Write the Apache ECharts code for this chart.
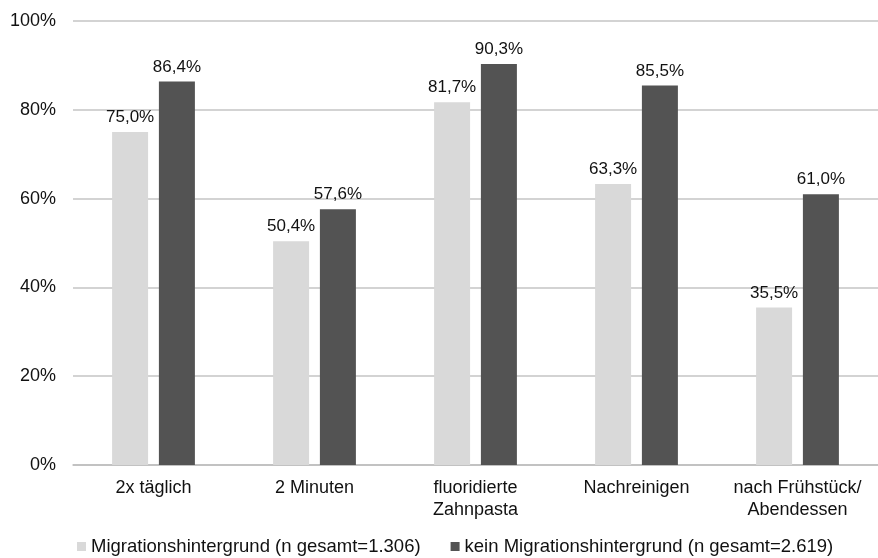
<!DOCTYPE html>
<html>
<head>
<meta charset="utf-8">
<script src="https://cdn.jsdelivr.net/npm/echarts@6/dist/echarts.min.js"></script>
<style>
  html, body { margin: 0; padding: 0; background: #fff; }
  #chart { width: 878px; height: 558px; }
</style>
</head>
<body>
<div id="chart"></div>
<script>
// Kategorien und Werte (in Prozent)
const categories = ["2x täglich", "2 Minuten", "fluoridierte\nZahnpasta", "Nachreinigen", "nach Frühstück/\nAbendessen"];
const mitMigration = [75.0, 50.4, 81.7, 63.3, 35.5];
const ohneMigration = [86.4, 57.6, 90.3, 85.5, 61.0];
const seriesNames = ["Migrationshintergrund (n gesamt=1.306)", "kein Migrationshintergrund (n gesamt=2.619)"];
const yTicks = [0, 20, 40, 60, 80, 100];

const font = "Liberation Sans, Arial, sans-serif";
const fmt = (v) => v.toFixed(1).replace(".", ",") + "%";

const chart = echarts.init(document.getElementById("chart"));
chart.setOption({
  animation: false,
  color: ["#d9d9d9", "#535353"],
  grid: { left: 73, right: 0, top: 21, bottom: 93 },
  legend: {
    bottom: -3,
    left: 72,
    itemWidth: 9,
    itemHeight: 9,
    itemGap: 30,
    icon: "rect",
    textStyle: { fontFamily: font, fontSize: 18.5, color: "#111" },
    data: seriesNames,
  },
  xAxis: {
    type: "category",
    data: categories,
    axisTick: { show: false },
    axisLine: { lineStyle: { color: "#bdbdbd", width: 1.5 } },
    axisLabel: {
      interval: 0,
      hideOverlap: false,
      margin: 12,
      fontFamily: font,
      fontSize: 18,
      color: "#111",
      lineHeight: 22,
    },
  },
  yAxis: {
    type: "value",
    min: yTicks[0],
    max: yTicks[yTicks.length - 1],
    interval: 20,
    axisLine: { show: false },
    axisTick: { show: false },
    splitLine: { lineStyle: { color: "#c4c4c4", width: 1.5 } },
    axisLabel: {
      margin: 17,
      fontFamily: font,
      fontSize: 18,
      color: "#111",
      formatter: (v) => v + "%",
    },
  },
  series: [
    {
      name: seriesNames[0],
      type: "bar",
      data: mitMigration,
      barWidth: 36,
      barGap: "30%",
      label: {
        show: true,
        position: "top",
        distance: 6,
        fontFamily: font,
        fontSize: 17,
        color: "#111",
        formatter: (p) => fmt(p.value),
      },
    },
    {
      name: seriesNames[1],
      type: "bar",
      data: ohneMigration,
      barWidth: 36,
      barGap: "30%",
      label: {
        show: true,
        position: "top",
        distance: 6,
        fontFamily: font,
        fontSize: 17,
        color: "#111",
        formatter: (p) => fmt(p.value),
      },
    },
  ],
});
</script>
</body>
</html>
